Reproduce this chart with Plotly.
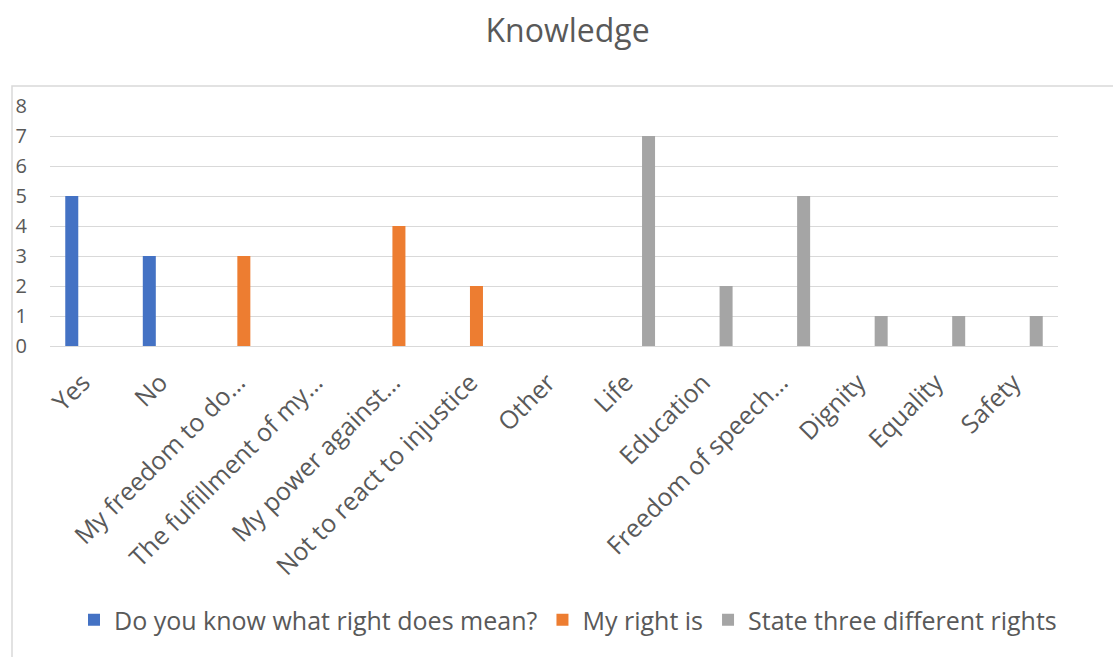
import plotly.graph_objects as go

categories = ["Yes", "No", "My freedom to do…", "The fulfillment of my…", "My power against…",
              "Not to react to injustice", "Other", "Life", "Education", "Freedom of speech…",
              "Dignity", "Equality", "Safety"]
series_names = ["Do you know what right does mean?", "My right is", "State three different rights"]
know_vals = [5, 3, None, None, None, None, None, None, None, None, None, None, None]
right_vals = [None, None, 3, None, 4, 2, None, None, None, None, None, None, None]
state_vals = [None, None, None, None, None, None, None, 7, 2, 5, 1, 1, 1]
y_ticks = [0, 1, 2, 3, 4, 5, 6, 7, 8]

colors = ["#4472C4", "#ED7D31", "#A5A5A5"]
FONT = "Open Sans"
TXT = "#595959"

fig = go.Figure()
for name, vals, col in zip(series_names, [know_vals, right_vals, state_vals], colors):
    fig.add_trace(go.Bar(x=categories, y=vals, name=name, marker=dict(color=col, line=dict(width=0))))

W, H = 1113, 657
L, R, T, B = 50, 55, 106, 311
pw, ph = W - L - R, H - T - B

def px_x(p):
    return (p - L) / pw

def px_y(p):
    return (H - B - p) / ph

fig.update_layout(
    width=W, height=H,
    margin=dict(l=L, r=R, t=T, b=B, autoexpand=False),
    paper_bgcolor="white", plot_bgcolor="white",
    barmode="group", bargap=0.342, bargroupgap=0.235,
    font=dict(family=FONT, color=TXT),
    title=dict(text="Knowledge", x=px_x(564), xanchor="center", y=1 - 31 / H, yanchor="middle",
               font=dict(size=32, color=TXT, family=FONT)),
    xaxis=dict(type="category", tickangle=-45, tickfont=dict(size=25, color=TXT),
               ticks="outside", ticklen=8, tickcolor="rgba(0,0,0,0)", showgrid=False,
               showline=False, zeroline=False, ticklabelshift=-6, ticklabelstandoff=3),
    yaxis=dict(range=[0, 8], tickvals=y_ticks, tickfont=dict(size=20, color=TXT),
               showgrid=True, gridcolor="#D9D9D9", gridwidth=1.3, zeroline=True,
               zerolinecolor="#D9D9D9", zerolinewidth=1.3, showline=False,
               ticks="outside", ticklen=18, tickcolor="rgba(0,0,0,0)"),
    legend=dict(orientation="h", x=px_x(568), xanchor="center", y=px_y(620), yanchor="middle",
                font=dict(size=25, color=TXT, family=FONT), itemwidth=30, tracegroupgap=0,
                bgcolor="rgba(0,0,0,0)"),
    shapes=[dict(type="rect", xref="paper", yref="paper",
                 x0=px_x(12), x1=px_x(1300), y0=px_y(900), y1=px_y(86),
                 line=dict(color="#D9D9D9", width=1.5), fillcolor="rgba(0,0,0,0)", layer="below")],
)

fig.write_html("out.html")
